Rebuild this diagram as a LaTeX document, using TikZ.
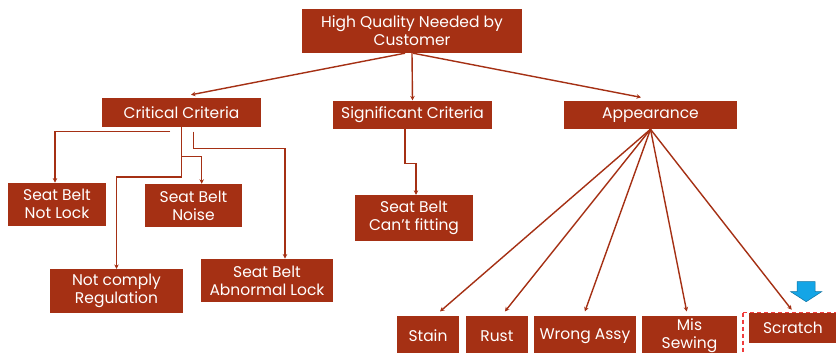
\documentclass[tikz,border=0pt]{standalone}
\usepackage{fontspec}
\setmainfont{Poppins}
\usetikzlibrary{arrows.meta,calc}
\definecolor{rust}{RGB}{165,48,20}
\definecolor{dashred}{RGB}{240,60,60}
\definecolor{arrowblue}{RGB}{20,165,230}
\begin{document}
\begin{tikzpicture}[x=1pt,y=-1pt,
  box/.style={fill=rust,text=white,inner sep=0pt,align=center,font=\fontsize{15.5}{18}\selectfont},
  conn/.style={draw=rust,line width=1.4pt},
  arr/.style={conn,-{Stealth[length=4.5pt,width=4.5pt]}}]
\clip (0,0) rectangle (836,353);
\fill[white] (0,0) rectangle (836,353);

% nodes
\node[box,minimum width=220pt,minimum height=44pt] (top) at (412,31) {High Quality Needed by\\Customer};
\node[box,minimum width=159pt,minimum height=29pt] (crit) at (181.5,112.5) {Critical Criteria};
\node[box,minimum width=159pt,minimum height=28.5pt] (sig) at (412.5,114.8) {Significant Criteria};
\node[box,minimum width=173pt,minimum height=28.5pt] (app) at (650.5,114.8) {Appearance};
\node[box,minimum width=98pt,minimum height=43pt] (notlock) at (57,204.3) {Seat Belt\\Not Lock};
\node[box,minimum width=97pt,minimum height=43pt] (noise) at (193.5,205.5) {Seat Belt\\Noise};
\node[box,minimum width=133pt,minimum height=43.7pt] (notcomply) at (116.5,291) {Not comply\\Regulation};
\node[box,minimum width=132pt,minimum height=43.3pt] (abn) at (267,280.4) {Seat Belt\\Abnormal Lock};
\node[box,minimum width=118pt,minimum height=45.7pt] (fit) at (414,217.9) {Seat Belt\\Can't fitting};
\node[box,minimum width=62pt,minimum height=40pt] (stain) at (428,335.7) {Stain};
\node[box,minimum width=61.7pt,minimum height=40pt] (rustn) at (496.9,335.7) {Rust};
\node[box,minimum width=101.7pt,minimum height=40pt] (wrong) at (584.9,335.7) {Wrong Assy};
\node[box,minimum width=94.4pt,minimum height=40pt] (mis) at (689.5,335.7) {Mis\\Sewing};
\node[box,minimum width=88pt,minimum height=30pt] (scratch) at (793,328) {Scratch};

% top level arrows
\draw[arr] ($(top.south)+(-7,0)$) -- ($(crit.north)+(9.5,-3)$);
\draw[arr] (top.south) -- (sig.north);
\draw[arr] ($(top.south)+(1,0)$) -- ($(app.north)+(-9.5,-3)$);

% critical criteria branches
\coordinate (c1) at (170,131.7);
\coordinate (c2) at (193.3,131.7);
\coordinate (n1) at (201.7,156.7);
\coordinate (r1) at (181.5,177);
\coordinate (a1) at (285,148.3);
\draw[arr] (c1) -| ($(notlock.north)+(-2,0)$);
\draw[arr] (crit.south) |- (n1) -- (n1 |- noise.north);
\draw[arr] (crit.south) -- (r1) -| (notcomply.north);
\draw[arr] (c2) |- (a1) -- (a1 |- abn.north);

% significant criteria branch
\coordinate (s1) at (416,163.3);
\draw[arr] ($(sig.south)+(-7.5,0)$) |- (s1) -- (s1 |- fit.north);

% appearance branches
\draw[arr] (app.south) -- ($(stain.north)+(12,-4)$);
\draw[arr] (app.south) -- ($(rustn.north)+(8,-4)$);
\draw[arr] (app.south) -- ($(wrong.north)+(0,-4)$);
\draw[arr] (app.south) -- ($(mis.north)+(-2.8,-4)$);
\draw[arr] (app.south) -- ($(scratch.north)+(-1.3,-3)$);

% highlight
\draw[dashred,dash pattern=on 4pt off 3pt,line width=1.1pt] (743,312.7) rectangle (850,365);
\filldraw[fill=arrowblue,draw=arrowblue!70!black,line width=0.5pt]
  (797,281.7) -- (815,281.7) -- (815,291.7) -- (821.7,291.7) -- (806.2,301.7)
  -- (790.7,291.7) -- (797,291.7) -- cycle;
\end{tikzpicture}
\end{document}
